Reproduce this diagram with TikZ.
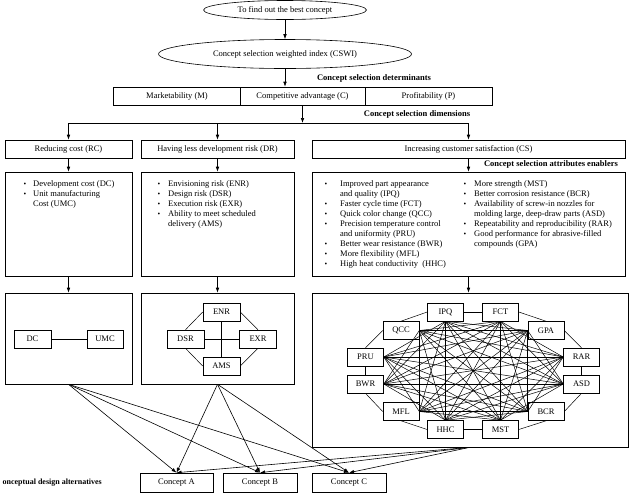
\documentclass[tikz,border=0pt]{standalone}
\usepackage{fontspec}
\setmainfont{Liberation Serif}
\usetikzlibrary{arrows.meta,shapes.geometric}
\newcommand{\bul}{{\fontsize{7.5}{7.5}\selectfont\textbullet}}
\begin{document}
\begin{tikzpicture}[x=1pt,y=-1pt,
  every node/.style={font=\fontsize{8.5}{10}\selectfont, inner sep=0pt},
  bx/.style={draw, line width=0.6pt, rectangle},
  ell/.style={draw, ellipse, line width=0.6pt},
  sm/.style={bx, minimum width=36pt, minimum height=18pt},
  lbl/.style={font=\fontsize{8.5}{10}\selectfont\bfseries},
  arr/.style={line width=0.6pt,-{Latex[length=5pt,width=3.6pt]}},
  ln/.style={line width=0.5pt}]
\useasboundingbox (0,0) rectangle (629,496);

% top ellipses
\node[ell, minimum width=163pt, minimum height=19pt] (E1) at (285,10) {To find out the best concept};
\node[ell, minimum width=253pt, minimum height=29pt] (E2) at (285,54) {Concept selection weighted index (CSWI)};
\draw[arr] (E1.south) -- (E2.north);

% determinants
\node[lbl] (detl) at (374,78) {Concept selection determinants};
\node[bx, minimum width=126.5pt, minimum height=18pt] (M) at (177,96) {Marketability (M)};
\node[bx, minimum width=125pt, minimum height=18pt] (C) at (302.5,96) {Competitive advantage (C)};
\node[bx, minimum width=127pt, minimum height=18pt] (P) at (428.5,96) {Profitability (P)};
\draw[arr] (E2.south) -- (E2.south |- C.north);

% dimensions
\node[lbl] (diml) at (417,114) {Concept selection dimensions};
\coordinate (hl) at (68,123);
\coordinate (hr) at (469,123);
\node[bx, minimum width=127pt, minimum height=18pt] (RC) at (68.5,149) {Reducing cost (RC)};
\node[bx, minimum width=153pt, minimum height=18pt] (DR) at (217.5,149) {Having less development risk (DR)};
\node[bx, minimum width=313pt, minimum height=18pt] (CS) at (468.5,149) {Increasing customer satisfaction (CS)};
\draw[arr] (C.south) -- (C.south |- hl);
\draw[line width=0.6pt] (hl) -- (hr);
\draw[arr] (RC.north |- hl) -- (RC.north);
\draw[arr] (DR.north |- hl) -- (DR.north);
\draw[arr] (CS.north |- hl) -- (CS.north);

% attribute boxes
\node[lbl] (attl) at (551,164) {Concept selection attributes enablers};
\node[bx, minimum width=127pt, minimum height=104pt] (B1) at (68.5,224) {};
\node[bx, minimum width=153pt, minimum height=104pt] (B2) at (217.5,224) {};
\node[bx, minimum width=313pt, minimum height=104pt] (B3) at (468.5,224) {};
\draw[arr] (RC.south) -- (B1.north);
\draw[arr] (DR.south) -- (B2.north);
\draw[arr] (CS.south) -- (B3.north -| CS.south);

\node[anchor=base west] (T1) at (23.5,186) {\begin{tabular}[t]{@{}p{9.5pt}@{}l@{}}
\bul & Development cost (DC)\\
\bul & Unit manufacturing\\
 & Cost (UMC)
\end{tabular}};
\node[anchor=base west] (T2) at (157.5,186) {\begin{tabular}[t]{@{}p{10.5pt}@{}l@{}}
\bul & Envisioning risk (ENR)\\
\bul & Design risk (DSR)\\
\bul & Execution risk (EXR)\\
\bul & Ability to meet scheduled\\
 & delivery (AMS)
\end{tabular}};
\node[anchor=base west] (T3) at (324.5,186) {\begin{tabular}[t]{@{}p{15.5pt}@{}l@{}}
\bul & Improved part appearance\\
 & and quality (IPQ)\\
\bul & Faster cycle time (FCT)\\
\bul & Quick color change (QCC)\\
\bul & Precision temperature control\\
 & and uniformity (PRU)\\
\bul & Better wear resistance (BWR)\\
\bul & More flexibility (MFL)\\
\bul & High heat conductivity~ (HHC)
\end{tabular}};
\node[anchor=base west] (T4) at (463.5,186) {\begin{tabular}[t]{@{}p{10.5pt}@{}l@{}}
\bul & More strength (MST)\\
\bul & Better corrosion resistance (BCR)\\
\bul & Availability of screw-in nozzles for\\
 & molding large, deep-draw parts (ASD)\\
\bul & Repeatability and reproducibility (RAR)\\
\bul & Good performance for abrasive-filled\\
 & compounds (GPA)
\end{tabular}};

% lower boxes
\node[bx, minimum width=127pt, minimum height=91pt] (L1) at (68.5,338.5) {};
\node[bx, minimum width=153pt, minimum height=91pt] (L2) at (217.5,338.5) {};
\node[bx, minimum width=316pt, minimum height=154pt] (L3) at (470,370) {};
\draw[arr] (B1.south) -- (L1.north);
\draw[arr] (B2.south) -- (L2.north);
\draw[arr] (B3.south) -- (B3.south |- L3.north);

% L1 graph
\node[sm, minimum width=37pt] (DC) at (32.5,339) {DC};
\node[sm] (UMC) at (105,339) {UMC};
\draw[ln] (DC) -- (UMC);

% L2 graph
\node[sm, minimum width=37pt] (ENR) at (221.5,312) {ENR};
\node[sm, minimum width=37pt] (DSR) at (185.5,339) {DSR};
\node[sm, minimum width=37pt] (EXR) at (258,339) {EXR};
\node[sm, minimum width=37pt] (AMS) at (221.5,366) {AMS};
\draw[ln] (ENR.west) -- (DSR.north);
\draw[ln] (ENR.east) -- (EXR.north);
\draw[ln] (DSR.south) -- (AMS.west);
\draw[ln] (EXR.south) -- (AMS.east);
\draw[ln] (ENR.south) -- (AMS.north);
\draw[ln] (DSR.east) -- (EXR.west);

% L3 graph
\node[sm] (IPQ) at (445.5,312) {IPQ};
\node[sm] (FCT) at (500.5,312) {FCT};
\node[sm] (GPA) at (546,330.5) {GPA};
\node[sm] (RAR) at (581.5,357) {RAR};
\node[sm] (ASD) at (581.5,384) {ASD};
\node[sm] (BCR) at (546,411.5) {BCR};
\node[sm] (MST) at (500.5,429.5) {MST};
\node[sm] (HHC) at (445.5,429.5) {HHC};
\node[sm] (MFL) at (401,411.5) {MFL};
\node[sm] (BWR) at (365.5,384) {BWR};
\node[sm] (PRU) at (365.5,357) {PRU};
\node[sm] (QCC) at (401,330.5) {QCC};
% ring
\draw[ln] (IPQ.east) -- (FCT.west);
\draw[ln] (FCT.east) -- (GPA.north);
\draw[ln] (GPA.east) -- (RAR.north);
\draw[ln] (RAR.south) -- (ASD.north);
\draw[ln] (ASD.south) -- (BCR.east);
\draw[ln] (BCR.south) -- (MST.east);
\draw[ln] (MST.west) -- (HHC.east);
\draw[ln] (HHC.west) -- (MFL.south);
\draw[ln] (MFL.west) -- (BWR.south);
\draw[ln] (BWR.north) -- (PRU.south);
\draw[ln] (PRU.north) -- (QCC.west);
\draw[ln] (QCC.north) -- (IPQ.west);
% inner anchors
\coordinate (p1) at (IPQ.south);
\coordinate (p2) at (FCT.south);
\coordinate (p3) at (GPA.west);
\coordinate (p4) at (RAR.west);
\coordinate (p5) at (ASD.west);
\coordinate (p6) at (BCR.west);
\coordinate (p7) at (MST.north);
\coordinate (p8) at (HHC.north);
\coordinate (p9) at (MFL.east);
\coordinate (p10) at (BWR.east);
\coordinate (p11) at (PRU.east);
\coordinate (p12) at (QCC.east);
\foreach \i in {1,...,10}{
  \pgfmathtruncatemacro\js{\i+2}
  \pgfmathtruncatemacro\je{\i==1 ? 11 : 12}
  \foreach \j in {\js,...,\je}{
    \draw[ln] (p\i) -- (p\j);
  }
}

% concepts
\node[font=\fontsize{8}{10}\selectfont\bfseries, anchor=east] (cdl) at (102,483) {onceptual design alternatives};
\node[bx, minimum width=73pt, minimum height=19pt] (CA) at (176.5,482.5) {Concept A};
\node[bx, minimum width=74pt, minimum height=19pt] (CB) at (260,482.5) {Concept B};
\node[bx, minimum width=74pt, minimum height=19pt] (CC) at (349,482.5) {Concept C};
\foreach \s in {L1,L2,L3}{
  \foreach \t in {CA,CB,CC}{
    \draw[arr] (\s.south) -- (\t.north);
  }
}
\end{tikzpicture}
\end{document}
